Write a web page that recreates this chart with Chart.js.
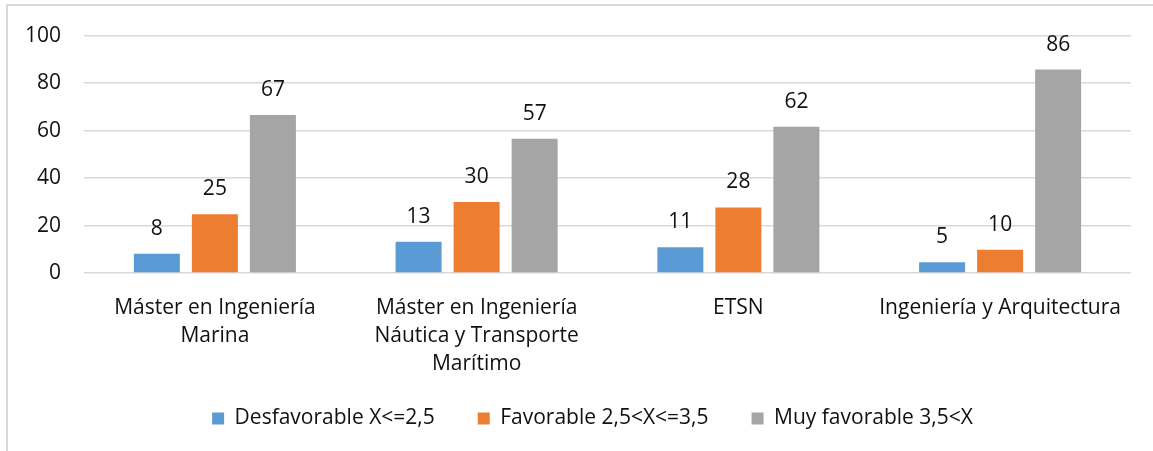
<!DOCTYPE html>
<html>
<head>
<meta charset="utf-8">
<script src="https://cdn.jsdelivr.net/npm/chart.js@4"></script>
<style>
  body { margin: 0; overflow: hidden; background: #fff; }
  #frame { position: absolute; left: 6px; top: 4px; width: 1200px; height: 500px; border: 2px solid #d9d9d9; }
  #wrap { position: absolute; left: 0; top: 0; width: 1153px; height: 451px; }
</style>
</head>
<body>
<div id="frame"></div>
<div id="wrap"><canvas id="myChart"></canvas></div>
<script>
var canvas = document.getElementById("myChart");

const categories = [
  ["Máster en Ingeniería", "Marina"],
  ["Máster en Ingeniería", "Náutica y Transporte", "Marítimo"],
  "ETSN",
  "Ingeniería y Arquitectura",
];
const seriesNames = [
  "Desfavorable X<=2,5",
  "Favorable 2,5<X<=3,5",
  "Muy favorable 3,5<X",
];
const desfavorable = [8.1, 13.2, 10.8, 4.5];
const favorable = [24.7, 29.9, 27.6, 9.8];
const muyFavorable = [66.6, 56.6, 61.6, 85.7];
const yTicks = [0, 20, 40, 60, 80, 100];

const FONT = "'Open Sans', 'Noto Sans', sans-serif";

// value labels above each bar, rounded like the original
const barLabels = {
  id: "barLabels",
  afterDatasetsDraw(chart) {
    const ctx = chart.ctx;
    ctx.save();
    ctx.font = "21px " + FONT;
    ctx.fillStyle = "#111";
    ctx.textAlign = "center";
    ctx.textBaseline = "middle";
    chart.data.datasets.forEach((ds, i) => {
      chart.getDatasetMeta(i).data.forEach((bar, j) => {
        ctx.fillText(Math.round(ds.data[j]), bar.x, bar.y - 25);
      });
    });
    ctx.restore();
  },
};

// move the legend a bit right and up, like the Excel layout
const legendNudge = {
  id: "legendNudge",
  afterLayout(chart) {
    chart.legend.left += 27;
    chart.legend.right += 27;
    chart.legend.top -= 8;
  },
};

new Chart(canvas, {
  type: "bar",
  data: {
    labels: categories,
    datasets: [
      { label: seriesNames[0], data: desfavorable, backgroundColor: "#5b9bd5" },
      { label: seriesNames[1], data: favorable, backgroundColor: "#ed7d31" },
      { label: seriesNames[2], data: muyFavorable, backgroundColor: "#a5a5a5" },
    ],
  },
  plugins: [barLabels, legendNudge],
  options: {
    responsive: true,
    maintainAspectRatio: false,
    animation: false,
    layout: { padding: { left: 0, right: 22, top: 34, bottom: 4 } },
    datasets: {
      bar: { categoryPercentage: 0.665, barPercentage: 0.793 },
    },
    plugins: {
      tooltip: { enabled: false },
      legend: {
        position: "bottom",
        labels: {
          boxWidth: 12,
          boxHeight: 12,
          padding: 43,
          color: "#111",
          font: { family: FONT, size: 21 },
        },
      },
    },
    scales: {
      x: {
        grid: { display: false },
        border: { display: false },
        ticks: {
          padding: 13,
          color: "#111",
          maxRotation: 0,
          font: { family: FONT, size: 21, lineHeight: 1.333 },
        },
        afterFit(scale) {
          scale.height = 100;
        },
      },
      y: {
        min: 0,
        max: 100,
        afterBuildTicks(scale) {
          scale.ticks = yTicks.map((v) => ({ value: v }));
        },
        grid: { color: "#d9d9d9", lineWidth: 1.5, drawTicks: false },
        border: { display: false },
        ticks: {
          padding: 23,
          color: "#111",
          font: { family: FONT, size: 21 },
        },
        afterFit(scale) {
          scale.width = 84;
        },
      },
    },
  },
});
</script>
</body>
</html>
